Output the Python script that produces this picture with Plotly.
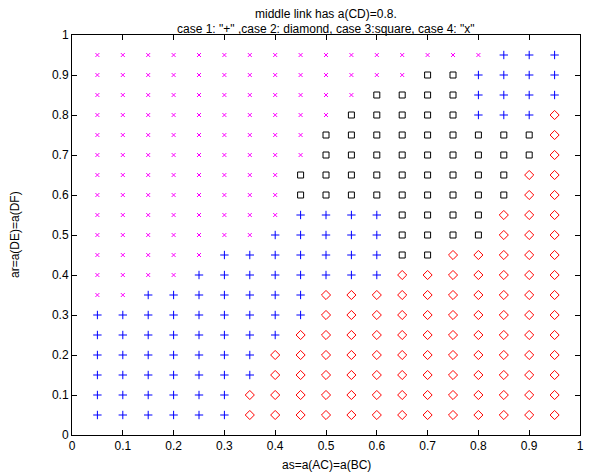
import plotly.graph_objects as go

# grid values
x_vals = [round(0.05 * i, 2) for i in range(1, 20)]
y_vals = [round(0.05 * i, 2) for i in range(19, 0, -1)]  # top row first

# case per grid point: 1 "+", 2 diamond, 3 square, 4 "x"; rows from y=0.95 down to y=0.05
case_rows = [
    "4444444444444444111",  # 0.95
    "4444444444444331111",  # 0.90
    "4444444444433331111",  # 0.85
    "4444444444333331112",  # 0.80
    "4444444443333333332",  # 0.75
    "4444444443333333332",  # 0.70
    "4444444433333333322",  # 0.65
    "4444444433333333322",  # 0.60
    "4444444411113333222",  # 0.55
    "4444444111113333222",  # 0.50
    "4444411111113322222",  # 0.45
    "4444111111112222222",  # 0.40
    "4411111112222222222",  # 0.35
    "1111111112222222222",  # 0.30
    "1111111122222222222",  # 0.25
    "1111111222222222222",  # 0.20
    "1111111222222222222",  # 0.15
    "1111112222222222222",  # 0.10
    "1111112222222222222",  # 0.05
]

tick_vals = [0, 0.1, 0.2, 0.3, 0.4, 0.5, 0.6, 0.7, 0.8, 0.9, 1]
tick_text = ["0", "0.1", "0.2", "0.3", "0.4", "0.5", "0.6", "0.7", "0.8", "0.9", "1"]

styles = {
    1: dict(symbol="cross-thin-open", color="#0000ff", size=6, lw=1),
    2: dict(symbol="diamond-open", color="#ff0000", size=7, lw=1),
    3: dict(symbol="square-open", color="#000000", size=6, lw=1),
    4: dict(symbol="x-thin-open", color="#ff00ff", size=4, lw=1),
}

fig = go.Figure()
for case in [1, 2, 3, 4]:
    xs, ys = [], []
    for r, row in enumerate(case_rows):
        for c, ch in enumerate(row):
            if int(ch) == case:
                xs.append(x_vals[c])
                ys.append(y_vals[r])
    st = styles[case]
    fig.add_trace(go.Scatter(
        x=xs, y=ys, mode="markers",
        marker=dict(symbol=st["symbol"], size=st["size"], color=st["color"],
                    line=dict(color=st["color"], width=st["lw"])),
        showlegend=False, hoverinfo="skip",
    ))

axis_common = dict(
    range=[0, 1], tickvals=tick_vals, ticktext=tick_text,
    ticks="inside", ticklen=5, tickcolor="#000", tickwidth=1,
    showline=True, linecolor="#000", linewidth=1, mirror="ticks",
    showgrid=False, zeroline=False,
    tickfont=dict(family="Liberation Sans, Arial", size=12, color="#000"),
)

fig.update_layout(
    width=603, height=473,
    margin=dict(l=72, r=23, t=35, b=38),
    paper_bgcolor="#ffffff", plot_bgcolor="#ffffff",
    xaxis=dict(**axis_common),
    yaxis=dict(**axis_common),
    font=dict(family="Liberation Sans, Arial", size=12, color="#000"),
    annotations=[
        dict(text="middle link has a(CD)=0.8.", x=326, y=14, xref="paper", yref="paper",
             showarrow=False),
        dict(text='case 1: "+" ,case 2: diamond, case 3:square, case 4: "x"', x=326, y=29,
             xref="paper", yref="paper", showarrow=False),
        dict(text="as=a(AC)=a(BC)", x=326, y=465, showarrow=False),
        dict(text="ar=a(DE)=a(DF)", x=15, y=235, showarrow=False, textangle=-90),
    ],
)

# convert pixel positions of annotations into paper coordinates
W, H = 603, 473
L, R, T, B = 72, 23, 35, 38
pw, ph = W - L - R, H - T - B
new_ann = []
for a in fig.layout.annotations:
    px, py = a.x, a.y
    a.update(xref="paper", yref="paper", x=(px - L) / pw, y=1 - (py - T) / ph,
             xanchor="center", yanchor="middle",
             font=dict(family="Liberation Sans, Arial", size=12, color="#000"))
    new_ann.append(a)
fig.layout.annotations = new_ann

fig.write_html("out.html")
